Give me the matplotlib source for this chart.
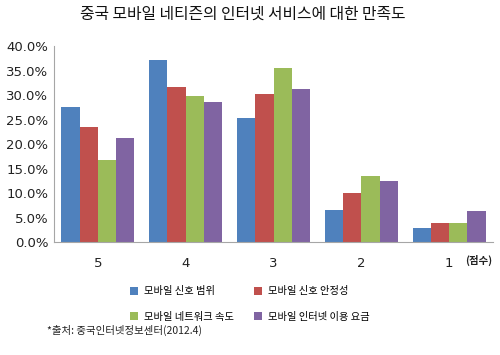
import matplotlib
matplotlib.use("Agg")
import matplotlib.pyplot as plt
import numpy as np

plt.rcParams['font.family'] = ['Noto Sans CJK KR', 'DejaVu Sans']

title = "중국 모바일 네티즌의 인터넷 서비스에 대한 만족도"
categories = ["5", "4", "3", "2", "1"]
series_names = ["모바일 신호 범위", "모바일 신호 안정성", "모바일 네트워크 속도", "모바일 인터넷 이용 요금"]
signal_range = [27.6, 37.2, 25.4, 6.5, 2.9]
signal_stability = [23.5, 31.7, 30.3, 10.1, 4.0]
network_speed = [16.8, 29.8, 35.5, 13.5, 4.0]
price = [21.3, 28.5, 31.2, 12.4, 6.3]
colors = ["#4F81BD", "#C0504D", "#9BBB59", "#8064A2"]
source = "*출처: 중국인터넷정보센터(2012.4)"
unit_label = "(점수)"

series = [signal_range, signal_stability, network_speed, price]

fig = plt.figure(figsize=(5, 3.55), dpi=100)
fig.patch.set_facecolor("white")

ax = fig.add_axes([0.108, 0.318, 0.878, 0.552])
ax.set_facecolor("none")
x = np.arange(len(categories))
w = 0.208
handles = []
for i, (vals, c, name) in enumerate(zip(series, colors, series_names)):
    b = ax.bar(x + (i - 1.5) * w, vals, width=w, color=c, label=name, zorder=2)
    handles.append(b)

ax.set_xlim(-0.5, len(categories) - 0.5)
ax.set_ylim(0, 40)
ax.set_yticks(np.arange(0, 41, 5))
ax.set_yticklabels([f"{v:.1f}%" for v in np.arange(0, 41, 5)], fontsize=9.5, family="DejaVu Sans", color="#222222")
ax.set_xticks(x)
ax.set_xticklabels(categories, fontsize=9.5, family="DejaVu Sans", color="#222222")
ax.tick_params(axis="y", length=0, pad=4)
ax.tick_params(axis="x", length=0, pad=11)
for s in ["top", "right"]:
    ax.spines[s].set_visible(False)
for s in ["left", "bottom"]:
    ax.spines[s].set_color("#A6A6A6")
    ax.spines[s].set_linewidth(0.8)

fig.text(0.485, 0.960, title, ha="center", va="center", fontsize=11.4, color="#111111")
fig.text(0.930, 0.266, unit_label, ha="left", va="center", fontsize=7.5, fontweight="bold", color="#222222")
fig.text(0.094, 0.07, source, ha="left", va="center", fontsize=7.5, color="#222222")

order = [0, 2, 1, 3]
leg = fig.legend([handles[i] for i in order], [series_names[i] for i in order],
                 ncol=2, loc="center", bbox_to_anchor=(0.5, 0.144), frameon=False,
                 fontsize=7.4, handlelength=0.8, handleheight=0.8, handletextpad=0.6,
                 columnspacing=1.9, labelspacing=1.5)

fig.savefig("out.png", dpi=100, facecolor="white")
